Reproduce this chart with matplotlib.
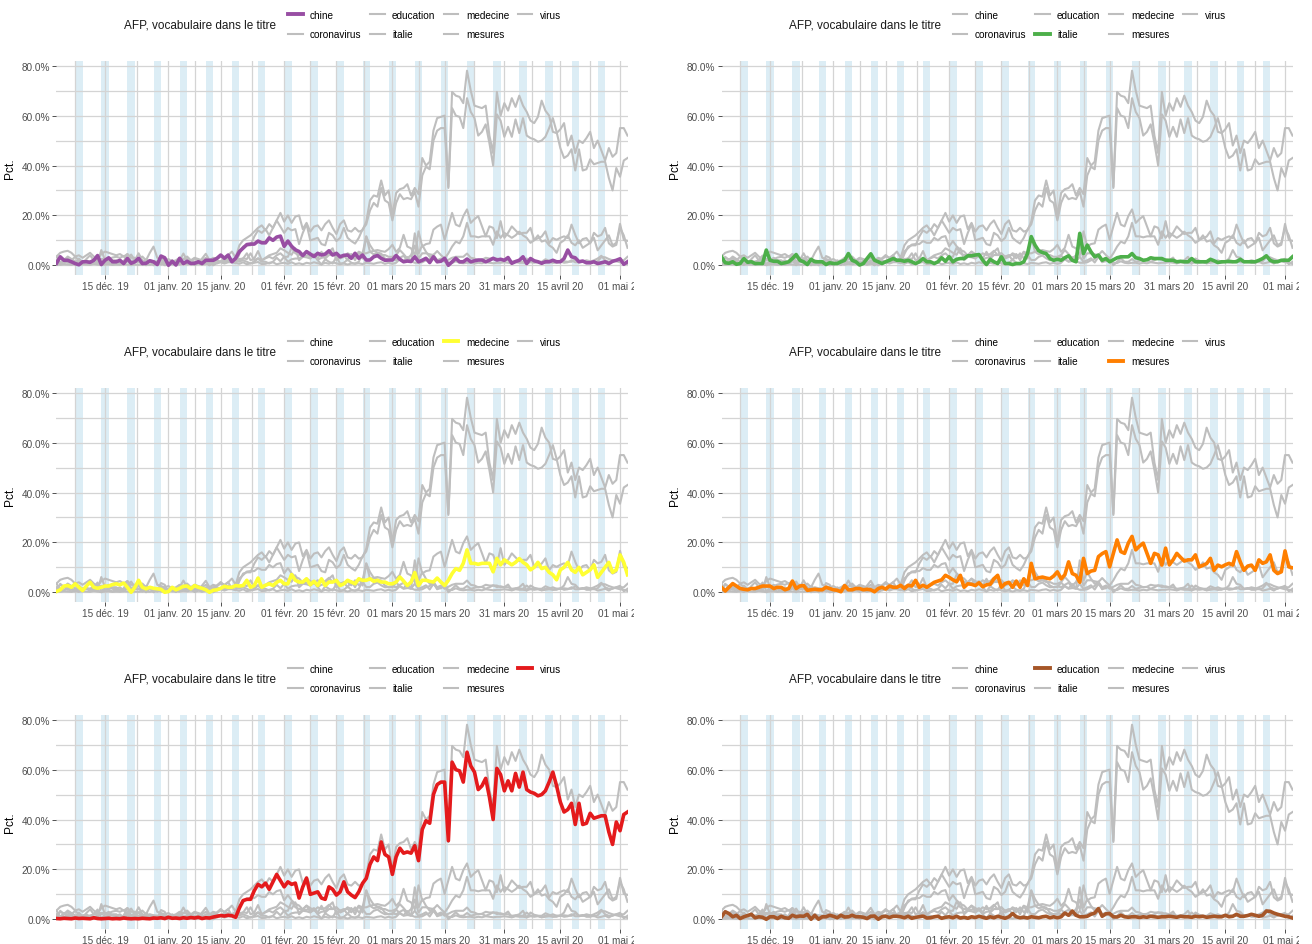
import datetime
import numpy as np
import matplotlib
matplotlib.use("Agg")
import matplotlib.pyplot as plt
import matplotlib.dates as mdates
from matplotlib.lines import Line2D
from matplotlib.transforms import Bbox, TransformedBbox

plt.rcParams['font.family'] = ['Liberation Sans', 'DejaVu Sans']

# daily share of AFP titles containing each word, 2019-12-02 .. 2020-05-03 (one row per week)
start = datetime.date(2019, 12, 2)
n_days = 154

chine = [
    0.8, 3.4, 2.0, 2.0, 1.4, 0.7, 0.2,
    1.4, 1.4, 1.2, 2.0, 3.9, 0.3, 2.0,
    3.0, 1.4, 1.4, 2.0, 0.7, 2.7, 0.8,
    1.4, 2.8, 0.7, 0.8, 1.8, 1.4, 0.3,
    3.7, 3.0, 0.0, 1.6, 0.1, 2.8, 0.7,
    1.6, 0.7, 0.8, 1.4, 0.7, 2.0, 2.0,
    2.0, 2.8, 4.1, 2.8, 4.1, 1.4, 2.8,
    5.5, 6.9, 8.3, 8.5, 8.5, 9.7, 9.0,
    9.0, 11.0, 10.0, 11.3, 11.7, 7.6, 9.7,
    7.6, 6.2, 5.5, 3.9, 5.5, 4.5, 3.5,
    4.8, 4.1, 4.5, 5.8, 4.1, 4.8, 3.4,
    4.0, 4.1, 2.8, 4.8, 2.8, 4.1, 2.1,
    2.1, 3.4, 3.9, 2.8, 2.0, 2.1, 2.1,
    3.9, 2.4, 1.4, 1.7, 1.5, 3.4, 1.4,
    2.0, 2.8, 1.1, 3.4, 1.4, 1.6, 2.8,
    0.0, 1.4, 2.8, 1.4, 1.4, 2.5, 1.4,
    1.8, 2.1, 2.1, 1.4, 2.0, 2.8, 2.1,
    2.4, 2.0, 3.1, 0.8, 1.5, 2.0, 3.4,
    0.7, 2.7, 1.8, 1.4, 0.8, 1.4, 1.4,
    2.0, 1.4, 1.4, 2.7, 6.1, 3.4, 3.0,
    1.4, 1.7, 1.0, 1.0, 1.4, 0.7, 1.0,
    1.4, 0.7, 1.6, 2.0, 2.6, 0.4, 1.4,
]

coronavirus = [
    3.5, 5.0, 5.5, 5.8, 5.0, 3.5, 4.0,
    3.0, 4.0, 5.0, 3.5, 2.5, 4.5, 5.5,
    5.0, 4.5, 4.0, 4.5, 3.5, 4.5, 3.0,
    3.0, 2.5, 3.5, 2.0, 5.0, 7.5, 3.0,
    2.5, 2.0, 2.5, 1.5, 2.0, 3.0, 2.5,
    3.5, 2.0, 3.0, 2.5, 2.0, 3.0, 2.0,
    3.0, 2.5, 3.5, 3.0, 4.0, 5.5, 3.0,
    8.0, 10.0, 11.0, 12.0, 13.5, 15.0, 16.0,
    14.0, 16.5, 15.0, 18.0, 21.0, 17.5, 20.0,
    17.0, 19.5, 20.0, 14.5, 17.0, 13.5, 15.5,
    16.0, 14.0, 16.5, 18.0, 15.0, 12.5, 16.5,
    18.0, 14.0, 13.5, 15.0, 13.5, 14.0, 17.5,
    26.0, 28.0, 27.5, 34.0, 28.0, 30.0, 20.0,
    29.0, 30.5, 31.0, 32.5, 28.0, 31.0, 28.5,
    43.0, 40.0, 41.5, 54.0, 59.0, 59.5, 60.0,
    31.0, 69.5, 68.0, 67.5, 65.0, 78.0, 70.0,
    64.0, 63.5, 63.0, 64.0, 52.0, 45.0, 69.5,
    60.0, 65.0, 62.0, 67.0, 63.5, 68.0, 64.0,
    61.5, 58.0, 57.0, 59.5, 66.0, 62.0, 60.0,
    53.5, 53.0, 54.5, 57.0, 48.0, 52.0, 45.0,
    50.0, 49.0, 51.0, 53.5, 47.0, 50.0, 46.0,
    42.0, 47.0, 43.5, 45.0, 55.0, 55.0, 52.0,
]

education = [
    1.0, 3.0, 2.3, 1.0, 1.6, 0.3, 1.0,
    1.5, 2.0, 0.6, 1.0, 0.8, 0.0, 1.0,
    1.0, 0.3, 1.2, 0.6, 0.4, 1.6, 1.0,
    1.3, 1.2, 2.0, 0.0, 1.6, 0.0, 1.0,
    1.0, 1.6, 1.2, 0.6, 1.6, 0.9, 1.0,
    1.6, 1.0, 1.0, 0.8, 0.3, 1.2, 1.3,
    0.0, 1.0, 1.2, 0.7, 1.2, 1.2, 1.0,
    0.6, 1.2, 0.4, 0.8, 1.0, 1.3, 0.5,
    0.6, 1.0, 1.2, 0.4, 0.8, 1.0, 0.6,
    1.2, 0.5, 0.8, 0.4, 1.0, 0.7, 1.2,
    0.8, 0.4, 1.0, 0.6, 1.2, 0.8, 0.4,
    1.0, 2.3, 1.0, 0.6, 0.8, 0.5, 1.0,
    0.8, 0.6, 1.0, 1.2, 0.6, 1.0, 0.6,
    1.0, 2.5, 1.6, 3.3, 1.6, 1.0, 1.0,
    1.2, 2.0, 2.5, 4.3, 1.2, 2.2, 2.3,
    1.0, 0.9, 1.6, 1.0, 0.8, 1.0, 1.0,
    0.7, 1.0, 0.8, 1.2, 1.0, 0.8, 1.0,
    1.0, 1.2, 1.0, 0.8, 1.2, 1.0, 1.0,
    0.8, 1.2, 1.0, 1.2, 0.8, 1.0, 1.2,
    1.0, 1.0, 1.6, 1.0, 1.2, 2.0, 1.2,
    1.2, 1.5, 2.0, 1.6, 1.2, 1.6, 3.3,
    3.2, 2.5, 2.0, 1.6, 1.2, 1.0, 0.5,
]

italie = [
    3.4, 1.0, 0.8, 1.4, 0.4, 0.7, 2.7,
    1.2, 1.4, 0.7, 0.7, 0.7, 6.1, 2.0,
    1.6, 1.6, 0.7, 1.0, 1.4, 2.7, 4.3,
    2.0, 1.4, 0.3, 2.4, 1.4, 1.4, 1.4,
    0.3, 1.0, 0.7, 0.7, 1.4, 2.0, 4.7,
    2.0, 1.4, 0.1, 0.7, 2.7, 4.6, 2.0,
    1.4, 0.7, 1.4, 2.0, 2.7, 2.0, 2.0,
    1.6, 2.0, 1.4, 0.7, 1.4, 2.7, 1.4,
    1.4, 0.7, 1.4, 3.0, 1.6, 3.4, 1.4,
    2.4, 2.7, 2.7, 3.8, 3.8, 4.1, 4.3,
    2.0, 0.3, 2.4, 1.4, 0.7, 3.4, 0.7,
    0.7, 0.3, 0.7, 0.7, 1.4, 4.7, 11.5,
    8.1, 5.8, 5.1, 4.7, 2.7, 2.0, 2.4,
    2.0, 3.0, 3.8, 2.0, 1.4, 12.8, 4.7,
    8.1, 5.4, 3.4, 4.1, 2.0, 2.7, 1.4,
    2.2, 3.0, 3.4, 3.4, 3.4, 4.7, 3.0,
    2.7, 2.0, 2.2, 3.0, 2.7, 2.7, 2.7,
    2.0, 2.0, 2.0, 1.4, 1.6, 1.4, 1.4,
    2.7, 1.4, 1.4, 1.4, 1.4, 2.4, 1.8,
    1.1, 1.4, 1.4, 1.6, 1.4, 1.4, 2.4,
    1.4, 1.4, 1.4, 1.4, 2.0, 2.7, 3.8,
    2.0, 1.4, 1.4, 2.0, 2.0, 2.0, 3.4,
]

medecine = [
    0.3, 1.0, 2.5, 2.7, 2.0, 3.4, 2.0,
    0.7, 2.5, 4.0, 2.0, 1.6, 2.0, 2.5,
    2.5, 3.1, 3.4, 3.0, 3.7, 2.0, 0.0,
    2.0, 4.8, 2.0, 1.4, 2.0, 1.6, 1.4,
    1.2, 0.0, 0.3, 2.0, 1.0, 1.6, 2.4,
    2.5, 1.4, 2.7, 2.0, 1.6, 1.0, 0.0,
    0.8, 1.0, 1.6, 2.4, 2.0, 2.0, 2.7,
    2.5, 2.7, 4.8, 2.0, 2.7, 5.7, 2.0,
    2.8, 3.4, 2.7, 4.0, 4.8, 3.4, 3.4,
    7.1, 4.8, 4.1, 4.1, 5.4, 3.0, 4.4,
    2.7, 5.4, 2.7, 4.1, 4.1, 4.8, 2.7,
    3.4, 4.8, 4.1, 3.4, 5.4, 4.8, 4.8,
    5.4, 4.4, 4.8, 4.1, 4.1, 3.4, 3.4,
    4.1, 6.1, 4.5, 2.7, 4.1, 7.9, 2.7,
    4.8, 4.8, 4.4, 4.1, 5.7, 4.1, 2.7,
    4.8, 7.5, 9.5, 8.8, 11.6, 17.0, 11.6,
    11.6, 11.2, 11.6, 11.6, 11.6, 8.2, 13.6,
    11.0, 13.0, 12.0, 11.0, 12.0, 13.5, 12.0,
    11.0, 9.0, 10.0, 12.0, 9.5, 10.0, 8.0,
    7.0, 5.0, 9.0, 10.0, 12.0, 9.0, 8.0,
    10.0, 7.0, 8.0, 9.0, 11.0, 6.0, 8.0,
    10.0, 12.0, 8.0, 9.0, 15.0, 12.0, 7.0,
]

mesures = [
    2.0, 0.5, 2.0, 3.5, 2.5, 1.5, 1.2,
    1.0, 1.5, 1.5, 2.0, 2.5, 2.5, 2.5,
    1.5, 2.0, 2.0, 1.0, 1.5, 4.5, 1.5,
    2.5, 2.7, 0.8, 1.0, 1.2, 1.0, 1.0,
    2.0, 1.5, 1.0, 0.8, 0.2, 2.7, 1.0,
    1.0, 1.5, 1.5, 1.0, 1.2, 1.0, 0.2,
    1.5, 2.0, 1.3, 2.5, 2.0, 2.0, 2.8,
    1.5, 2.8, 2.5, 4.8, 2.0, 2.8, 2.0,
    3.0, 4.0, 4.5, 5.0, 6.8, 6.0, 5.0,
    4.2, 6.8, 2.0, 3.4, 3.2, 2.7, 3.8,
    2.2, 3.0, 3.2, 5.4, 6.8, 2.0, 3.5,
    4.0, 2.0, 4.5, 2.0, 5.4, 2.7, 11.6,
    5.4, 5.8, 6.1, 5.7, 5.4, 6.5, 8.2,
    5.4, 7.0, 12.2, 7.5, 6.8, 4.0, 13.6,
    7.5, 8.5, 8.8, 14.3, 15.5, 16.3, 10.2,
    15.6, 21.0, 16.3, 15.6, 19.7, 22.4, 17.0,
    18.5, 19.7, 15.6, 11.6, 15.6, 15.0, 10.9,
    17.7, 11.0, 13.0, 15.6, 14.0, 12.5, 13.0,
    13.0, 15.0, 10.2, 10.8, 11.5, 13.6, 8.8,
    10.9, 10.2, 11.0, 11.6, 10.9, 16.3, 12.2,
    8.8, 10.5, 10.9, 8.8, 13.0, 11.6, 12.2,
    15.0, 8.8, 7.5, 8.2, 16.6, 10.2, 9.8,
]

virus = [
    0.3, 0.2, 0.4, 0.3, 0.2, 0.5, 0.3,
    0.4, 0.3, 0.2, 0.6, 0.3, 0.2, 0.3,
    0.4, 0.2, 0.3, 0.2, 0.5, 0.3, 0.2,
    0.3, 0.2, 0.4, 0.3, 0.2, 0.5, 0.4,
    0.6, 0.3, 0.8, 0.4, 0.5, 0.3, 0.6,
    0.4, 0.7, 0.5, 0.8, 0.3, 0.6, 0.5,
    0.9, 1.2, 1.5, 1.3, 1.6, 1.4, 0.8,
    4.5, 7.5, 8.0, 8.0, 11.5, 14.0, 13.0,
    14.5, 12.0, 15.0, 18.0, 15.5, 13.0, 15.0,
    14.0, 14.5, 8.5, 13.0, 16.5, 10.0, 10.5,
    11.0, 8.5, 8.0, 13.0, 12.0, 9.7, 11.0,
    15.0, 11.0, 9.7, 8.7, 11.0, 14.4, 16.4,
    22.0, 25.0, 23.5, 31.0, 26.0, 25.0, 18.0,
    25.0, 28.5, 26.5, 27.0, 26.5, 29.5, 23.5,
    36.0, 39.5, 38.5, 50.0, 54.0, 55.0, 55.0,
    31.5, 63.0, 60.0, 59.5, 55.0, 67.0, 61.5,
    59.0, 52.0, 53.5, 56.5, 49.0, 40.0, 60.5,
    58.0, 51.5, 55.5, 51.5, 58.5, 53.0, 59.0,
    52.0, 51.0, 50.5, 49.5, 50.0, 51.5, 55.0,
    59.0, 53.5, 47.0, 43.0, 44.0, 46.5, 38.0,
    46.5, 38.0, 38.5, 42.5, 40.5, 41.0, 41.5,
    41.5, 35.0, 30.0, 39.0, 35.5, 42.0, 43.0,
]

words = ['chine', 'coronavirus', 'education', 'italie', 'medecine', 'mesures', 'virus']
series = dict(zip(words, [chine, coronavirus, education, italie, medecine, mesures, virus]))

# highlighted word per panel, row by row
highlight = ['chine', 'italie', 'medecine', 'mesures', 'virus', 'education']
highlight_colors = ['#984EA3', '#4DAF4A', '#FFFF33', '#FF7F00', '#E41A1C', '#A65628']

tick_dates = ['2019-12-15', '2020-01-01', '2020-01-15', '2020-02-01', '2020-02-15',
              '2020-03-01', '2020-03-15', '2020-03-31', '2020-04-15', '2020-05-01']
tick_labels = ['15 déc. 19', '01 janv. 20', '15 janv. 20', '01 févr. 20', '15 févr. 20',
               '01 mars 20', '15 mars 20', '31 mars 20', '15 avril 20', '01 mai 20']

dates = np.array([start + datetime.timedelta(days=i) for i in range(n_days)])
xd = mdates.date2num(dates)
tick_x = mdates.date2num([datetime.date.fromisoformat(t) for t in tick_dates])
minor_x = np.concatenate([[tick_x[0] - 8], (tick_x[:-1] + tick_x[1:]) / 2])
# weekend bands, only for full weekends inside the period
saturdays = [d for d in dates[:-2] if d.weekday() == 5]

allv = np.concatenate([np.array(v) for v in series.values()])
pad = 0.05 * (allv.max() - allv.min())
ylo, yhi = allv.min() - pad, allv.max() + pad

W, H = 1312, 945
fig = plt.figure(figsize=(W / 100, H / 100), dpi=100)

grey = '#bebebe'
grid_c = '#d4d4d4'
band_c = '#dcedf5'

for k, (word, col) in enumerate(zip(highlight, highlight_colors)):
    r, c = divmod(k, 2)
    left_px = 56.5 + 665 * c
    top_px = 62 + 327 * r
    ax = fig.add_axes([left_px / W, 1 - (top_px + 214) / H, 571 / W, 214 / H])

    for sat in saturdays:
        s = mdates.date2num(sat)
        ax.axvspan(s, s + 2, color=band_c, lw=0, zorder=0.2)
    for v in [0, 20, 40, 60, 80]:
        ax.axhline(v, color=grid_c, lw=0.9, zorder=0.5)
    for v in [10, 30, 50, 70]:
        ax.axhline(v, color=grid_c, lw=0.9, zorder=0.5)
    for v in np.concatenate([tick_x, minor_x]):
        ax.axvline(v, color=grid_c, lw=0.9, zorder=0.5)

    for w in words:
        ax.plot(xd, series[w], color=grey, lw=1.5, zorder=2, solid_joinstyle='round')
    ax.plot(xd, series[word], color=col, lw=2.6, zorder=3, solid_joinstyle='round')

    ax.set_xlim(xd[0], xd[-1])
    ax.set_ylim(ylo, yhi)
    ax.set_yticks([0, 20, 40, 60, 80], ['%.1f%%' % v for v in [0, 20, 40, 60, 80]])
    ax.set_xticks(tick_x, tick_labels)
    ax.tick_params(axis='both', length=3, width=0.6, color='#333333', labelsize=7.2,
                   labelcolor='#4d4d4d', pad=1.5)
    for s in ax.spines.values():
        s.set_visible(False)
    ax.set_ylabel('Pct.', fontsize=8.6, labelpad=4)

    # the last date label is cut off at the edge of the panel
    clip = TransformedBbox(Bbox([[-0.2, -1], [1.011, 2]]), ax.transAxes)
    for lab in ax.get_xticklabels():
        lab.set_clip_on(True)
        lab.set_clip_box(clip)

    fig.text((124 + 665 * c) / W, 1 - (25.5 + 327 * r) / H, 'AFP, vocabulaire dans le titre',
             ha='left', va='center', fontsize=8.5, color='#1a1a1a')
    handles = [Line2D([], [], color=(col if w == word else grey), lw=(2.8 if w == word else 1.5))
               for w in words]
    fig.legend(handles, words, loc='center left',
               bbox_to_anchor=((288 + 665 * c) / W, 1 - (25.5 + 327 * r) / H),
               ncol=4, frameon=False, fontsize=7.2, borderpad=0, borderaxespad=0,
               handlelength=1.45, handletextpad=0.75, columnspacing=0.85, labelspacing=0.95)

fig.savefig('out.png', dpi=100)
